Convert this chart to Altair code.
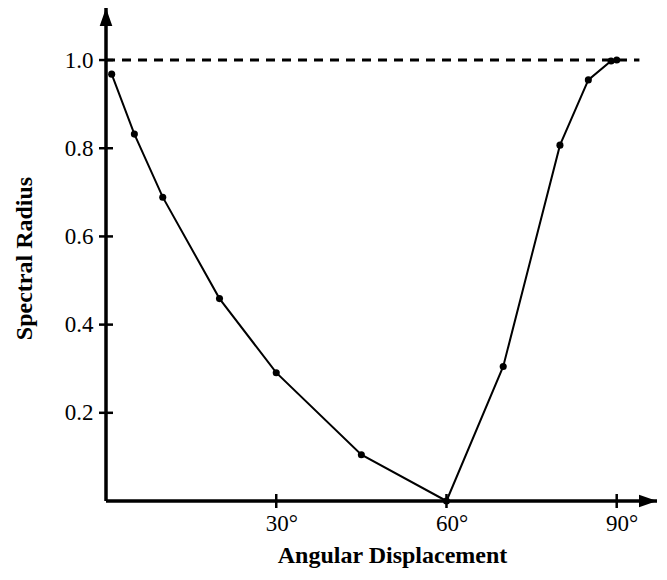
import altair as alt
import pandas as pd

# --- data ---
angle = [1, 5, 10, 20, 30, 45, 60, 70, 80, 85, 89, 90]
radius = [0.968, 0.832, 0.689, 0.459, 0.291, 0.105, 0.0, 0.305, 0.807, 0.955, 0.998, 1.0]
x_ticks = [30, 60, 90]
y_ticks = [0.2, 0.4, 0.6, 0.8, 1.0]
ref_level = [1.0]
ref_span = [0, 94]

X_MAX = 97.1
Y_MAX = 1.118
FONT = "Liberation Serif"

df = pd.DataFrame({"angle": angle, "radius": radius})
xs = alt.Scale(domain=[0, X_MAX], nice=False, zero=False)
ys = alt.Scale(domain=[0, Y_MAX], nice=False, zero=False)

x_axis = alt.Axis(
    values=x_ticks, labelExpr="datum.value + '°'", title="Angular Displacement",
    domain=False, ticks=False, grid=False, labelPadding=11, labelFlush=False,
    labelOverlap=False, labelOffset=5, titleX=286, titleY=61, titleBaseline="alphabetic",
    labelFont=FONT, labelFontSize=23, labelColor="black",
    titleFont=FONT, titleFontSize=24, titleFontWeight="bold", titleColor="black",
)
y_axis = alt.Axis(
    values=y_ticks, format=".1f", title="Spectral Radius",
    domain=False, ticks=False, grid=False, labelPadding=13, labelFlush=False,
    labelOverlap=False, titleX=-75, titleY=250, titleBaseline="alphabetic",
    labelFont=FONT, labelFontSize=23, labelColor="black",
    titleFont=FONT, titleFontSize=24, titleFontWeight="bold", titleColor="black",
)


def XD(v):
    return alt.XDatum(datum=v, type="quantitative", scale=xs, axis=x_axis)


def YD(v):
    return alt.YDatum(datum=v, type="quantitative", scale=ys, axis=y_axis)


UP = "M0,-1 L0.7,1 L-0.7,1 Z"
RIGHT = "M1,0 L-1,0.7 L-1,-0.7 Z"

# dashed reference line at 1.0
ref_df = pd.DataFrame({"x0": [ref_span[0]], "x1": [ref_span[1]], "y": ref_level})
dashed = alt.Chart(ref_df).mark_rule(
    color="black", strokeWidth=3, strokeDash=[9, 7]
).encode(
    x=alt.X("x0:Q", scale=xs, axis=x_axis), x2="x1:Q",
    y=alt.Y("y:Q", scale=ys, axis=y_axis),
)

# axis lines
y_line = alt.Chart().mark_rule(color="black", strokeWidth=3.5).encode(
    x=XD(0), y=YD(0), y2=alt.Y2Datum(datum=Y_MAX)
)
x_line = alt.Chart().mark_rule(color="black", strokeWidth=3.5).encode(
    x=XD(0), x2=alt.X2Datum(datum=X_MAX), y=YD(0)
)
y_arrow = alt.Chart().mark_point(
    shape=UP, size=324, filled=True, color="black", opacity=1, strokeWidth=0, yOffset=9
).encode(x=XD(0), y=YD(Y_MAX))
x_arrow = alt.Chart().mark_point(
    shape=RIGHT, size=324, filled=True, color="black", opacity=1, strokeWidth=0, xOffset=-9
).encode(x=XD(X_MAX), y=YD(0))

# crossing tick marks
xt = alt.Chart(pd.DataFrame({"t": x_ticks})).mark_rule(
    color="black", strokeWidth=2.5, yOffset=-7, y2Offset=7
).encode(x=alt.X("t:Q", scale=xs, axis=x_axis), y=YD(0), y2=alt.Y2Datum(datum=0))
yt = alt.Chart(pd.DataFrame({"t": y_ticks})).mark_rule(
    color="black", strokeWidth=2.5, xOffset=-7, x2Offset=7
).encode(y=alt.Y("t:Q", scale=ys, axis=y_axis), x=XD(0), x2=alt.X2Datum(datum=0))

# data
line = alt.Chart(df).mark_line(color="black", strokeWidth=2).encode(
    x=alt.X("angle:Q", scale=xs, axis=x_axis),
    y=alt.Y("radius:Q", scale=ys, axis=y_axis),
)
points = alt.Chart(df).mark_point(
    filled=True, color="black", size=50, opacity=1
).encode(
    x=alt.X("angle:Q", scale=xs, axis=x_axis),
    y=alt.Y("radius:Q", scale=ys, axis=y_axis),
)

chart = alt.layer(
    dashed, x_line, y_line, xt, yt, x_arrow, y_arrow, line, points
).properties(
    width=551, height=493,
    autosize=alt.AutoSizeParams(type="none"),
    padding={"left": 98, "top": 0, "right": 2, "bottom": 70},
    background="white",
).configure_view(stroke=None)

chart.save("out.html", embed_options={"renderer": "svg", "actions": False})
